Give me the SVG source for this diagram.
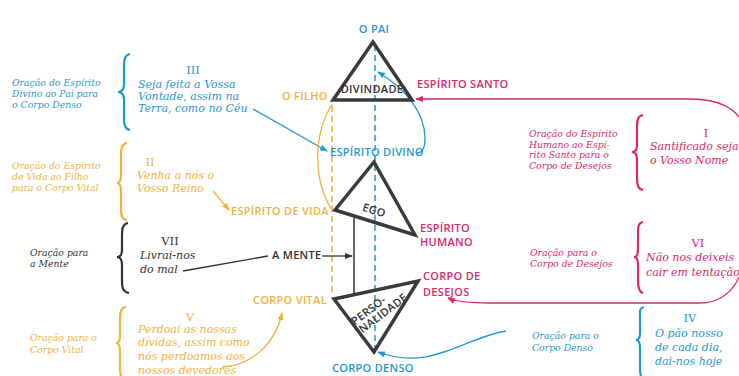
<svg xmlns="http://www.w3.org/2000/svg" width="739" height="376" viewBox="0 0 739 376">
<style>
.lbl{font-family:"Open Sans","DejaVu Sans",sans-serif;font-weight:600;font-size:11px;letter-spacing:0.3px}
.it{font-family:"DejaVu Serif",serif;font-style:italic;font-size:11px}
.sm{font-family:"DejaVu Serif",serif;font-style:italic;font-size:9.3px}
.num{font-family:"DejaVu Serif",serif;font-size:11.5px;text-anchor:middle}
.blue{fill:#1f98d4}.pink{fill:#d8286c}.orng{fill:#f0b23c}.dark{fill:#333}
.tri{fill:none;stroke:#3a3a3a;stroke-width:3.5;stroke-linejoin:miter}
.bb{fill:none;stroke:#1f98d4;stroke-width:1.3}
.bp{fill:none;stroke:#d8286c;stroke-width:1.3}
.bo{fill:none;stroke:#f0b23c;stroke-width:1.3}
.bd{fill:none;stroke:#333;stroke-width:1.3}
.br{fill:none;stroke-width:2.2}
</style>
<defs>
<marker id="ab" viewBox="0 0 8 6" refX="7" refY="3" markerWidth="8" markerHeight="6" markerUnits="userSpaceOnUse" orient="auto"><path d="M0,0 L8,3 L0,6 z" fill="#1f98d4"/></marker>
<marker id="ap" viewBox="0 0 8 6" refX="7" refY="3" markerWidth="8" markerHeight="6" markerUnits="userSpaceOnUse" orient="auto"><path d="M0,0 L8,3 L0,6 z" fill="#d8286c"/></marker>
<marker id="ao" viewBox="0 0 8 6" refX="7" refY="3" markerWidth="8" markerHeight="6" markerUnits="userSpaceOnUse" orient="auto"><path d="M0,0 L8,3 L0,6 z" fill="#f0b23c"/></marker>
<marker id="ad" viewBox="0 0 8 6" refX="7" refY="3" markerWidth="8" markerHeight="6" markerUnits="userSpaceOnUse" orient="auto"><path d="M0,0 L8,3 L0,6 z" fill="#333"/></marker>
</defs>
<rect width="739" height="376" fill="#fff"/>

<g id="connectors">
<line x1="375" y1="45" x2="375" y2="348" stroke="#1f98d4" stroke-width="1.5" stroke-dasharray="6,4"/>
<line x1="332" y1="106" x2="332" y2="296" stroke="#f0b23c" stroke-width="1.6" stroke-dasharray="6,4"/>
<line x1="354" y1="218" x2="354" y2="294" stroke="#333" stroke-width="1.5"/>
<path class="bp" d="M745,125 C735,108 720,99 690,99 L416,99" marker-end="url(#ap)"/>
<path class="bp" d="M745,262 C737,290 722,303 700,303 L490,303 C470,303 456,302 448,298" marker-end="url(#ap)"/>
<path class="bb" d="M417,153 C422,153 425,148 425,138 C425,115 408,90 378,72" marker-end="url(#ab)"/>
<path class="bb" d="M253,109 L327,151" marker-end="url(#ab)"/>
<path class="bb" d="M506,331 C465,337 432,372 378,352" marker-end="url(#ab)"/>
<path class="bo" d="M332,104 C313,135 313,180 332,210"/>
<path class="bo" d="M213,191 L229,210" marker-end="url(#ao)"/>
<path class="bo" d="M222,367 C250,366 275,345 282,313" marker-end="url(#ao)"/>
<path class="bd" d="M183,271 L268,256"/>
<path class="bd" d="M322,256 L352,256" marker-end="url(#ad)"/>
</g>

<g id="o-pai"><text class="lbl blue" x="374" y="33" font-size="15" text-anchor="middle">O PAI</text></g>
<g id="divindade">
<polygon class="tri" points="373,42 333,100 412,100"/>
<text class="lbl dark" x="372" y="93" font-size="10.5" font-weight="700" text-anchor="middle" letter-spacing="0">DIVINDADE</text>
</g>
<g id="o-filho"><text class="lbl orng" x="282" y="100">O FILHO</text></g>
<g id="espirito-santo"><text class="lbl pink" x="417" y="88">ESPÍRITO SANTO</text></g>
<g id="espirito-divino"><text class="lbl blue" x="330" y="156">ESPÍRITO DIVINO</text></g>
<g id="ego">
<polygon class="tri" points="374,162 335,210 415,235"/>
<text class="lbl dark" transform="translate(373,214) rotate(17)" text-anchor="middle" font-size="11">EGO</text>
</g>
<g id="espirito-de-vida"><text class="lbl orng" x="231" y="215">ESPÍRITO DE VIDA</text></g>
<g id="espirito-humano"><text class="lbl pink" x="420" y="232">ESPÍRITO</text><text class="lbl pink" x="420" y="246">HUMANO</text></g>
<g id="a-mente"><text class="lbl dark" x="272" y="259" font-size="10.5">A MENTE</text></g>
<g id="corpo-de-desejos"><text class="lbl pink" x="423" y="280">CORPO DE</text><text class="lbl pink" x="423" y="296">DESEJOS</text></g>
<g id="corpo-vital"><text class="lbl orng" x="253" y="304">CORPO VITAL</text></g>
<g id="personalidade">
<polygon class="tri" points="334,299 418,281 374,352"/>
<g transform="translate(376,312) rotate(-37)">
<text class="lbl dark" x="-5" y="-2" font-size="10" font-weight="700" text-anchor="middle" letter-spacing="0">PERSO-</text>
<text class="lbl dark" x="5" y="9" font-size="10" font-weight="700" text-anchor="middle" letter-spacing="0">NALIDADE</text>
</g>
</g>
<g id="corpo-denso"><text class="lbl blue" x="332" y="372" font-size="11.5">CORPO DENSO</text></g>

<g id="prayer-III">
<path class="br" stroke="#1f98d4" d="M130,54 C125,55 124,59 124,66 L124,84 C124,89 122,92 118,92 C122,92 124,95 124,100 L124,118 C124,125 125,129 130,130"/>
<text class="sm blue" x="12" y="86">Oração do Espírito</text>
<text class="sm blue" x="12" y="97">Divino ao Pai para</text>
<text class="sm blue" x="12" y="108">o Corpo Denso</text>
<text class="num blue" x="193" y="74">III</text>
<text class="it blue" x="138" y="88">Seja feita a Vossa</text>
<text class="it blue" x="138" y="100">Vontade, assim na</text>
<text class="it blue" x="138" y="112">Terra, como no Céu</text>
</g>
<g id="prayer-II">
<path class="br" stroke="#f0b23c" d="M127,143 C122,144 121,148 121,155 L121,175 C121,180 120,183 117,183 C120,183 121,186 121,191 L121,209 C121,216 122,219 127,220"/>
<text class="sm orng" x="12" y="169">Oração do Espírito</text>
<text class="sm orng" x="12" y="180">de Vida ao Filho</text>
<text class="sm orng" x="12" y="191">para o Corpo Vital</text>
<text class="num orng" x="150" y="166">II</text>
<text class="it orng" x="137" y="179">Venha a nós o</text>
<text class="it orng" x="137" y="192">Vosso Reino</text>
</g>
<g id="prayer-VII">
<path class="br" stroke="#333" d="M128,223 C123,224 122,228 122,235 L122,250 C122,255 120,257 117,257 C120,257 122,260 122,265 L122,281 C122,288 123,292 129,293"/>
<text class="sm dark" x="30" y="256">Oração para</text>
<text class="sm dark" x="30" y="267">a Mente</text>
<text class="num dark" x="170" y="245">VII</text>
<text class="it dark" x="140" y="259">Livrai-nos</text>
<text class="it dark" x="140" y="273">do mal</text>
</g>
<g id="prayer-V">
<path class="br" stroke="#f0b23c" d="M126,307 C121,308 120,312 120,319 L120,336 C120,341 119,343 116,343 C119,343 120,346 120,351 L120,368 C120,375 121,379 126,380"/>
<text class="sm orng" x="30" y="341">Oração para o</text>
<text class="sm orng" x="30" y="353">Corpo Vital</text>
<text class="num orng" x="190" y="321">V</text>
<text class="it orng" x="138" y="333">Perdoai as nossas</text>
<text class="it orng" x="138" y="346">dívidas, assim como</text>
<text class="it orng" x="138" y="360">nós perdoamos aos</text>
<text class="it orng" x="138" y="374">nossos devedores</text>
</g>
<g id="prayer-I">
<path class="br" stroke="#d8286c" d="M643,115 C638,116 637,120 637,127 L637,145 C637,150 635,152 632,152 C635,152 637,155 637,160 L637,178 C637,185 638,189 643,190"/>
<text class="sm pink" x="529" y="137">Oração do Espírito</text>
<text class="sm pink" x="529" y="148">Humano ao Espí-</text>
<text class="sm pink" x="529" y="158">rito Santo para o</text>
<text class="sm pink" x="529" y="169">Corpo de Desejos</text>
<text class="num pink" x="706" y="137">I</text>
<text class="it pink" x="650" y="150" font-size="10.7">Santificado seja</text>
<text class="it pink" x="650" y="164" font-size="10.7">o Vosso Nome</text>
</g>
<g id="prayer-VI">
<path class="br" stroke="#d8286c" d="M643,222 C638,223 638,227 638,234 L638,250 C638,255 637,257 634,257 C637,257 638,260 638,265 L638,281 C638,288 639,292 643,293"/>
<text class="sm pink" x="530" y="256">Oração para o</text>
<text class="sm pink" x="530" y="267">Corpo de Desejos</text>
<text class="num pink" x="698" y="247">VI</text>
<text class="it pink" x="646" y="261" font-size="10.5">Não nos deixeis</text>
<text class="it pink" x="646" y="276" font-size="10.5">cair em tentação</text>
</g>
<g id="prayer-IV">
<path class="br" stroke="#1f98d4" d="M644,307 C639,308 640,312 640,319 L640,333 C640,338 639,340 636,340 C639,340 640,343 640,348 L640,368 C640,375 641,379 644,380"/>
<text class="sm blue" x="532" y="339">Oração para o</text>
<text class="sm blue" x="532" y="351">Corpo Denso</text>
<text class="num blue" x="690" y="322">IV</text>
<text class="it blue" x="655" y="337">O pão nosso</text>
<text class="it blue" x="655" y="351">de cada dia,</text>
<text class="it blue" x="655" y="365">dai-nos hoje</text>
</g>
</svg>
